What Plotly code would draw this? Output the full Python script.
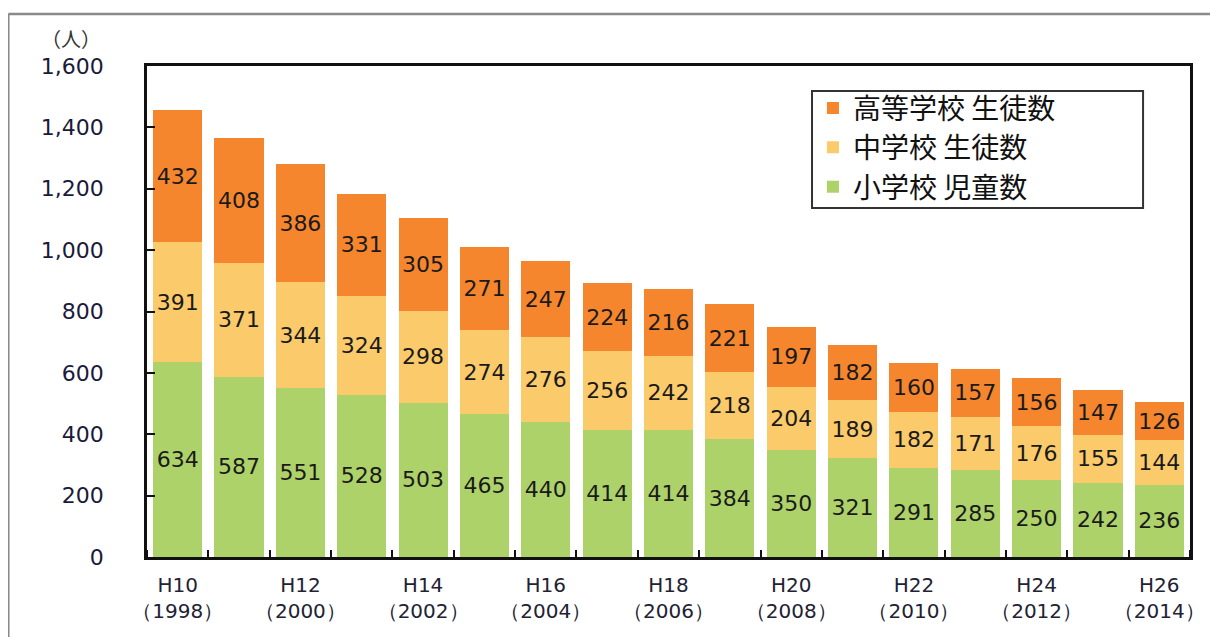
import plotly.graph_objects as go

years = ["H10", "H11", "H12", "H13", "H14", "H15", "H16", "H17", "H18",
         "H19", "H20", "H21", "H22", "H23", "H24", "H25", "H26"]
western = ["1998", "1999", "2000", "2001", "2002", "2003", "2004", "2005", "2006",
           "2007", "2008", "2009", "2010", "2011", "2012", "2013", "2014"]
high_school = [432, 408, 386, 331, 305, 271, 247, 224, 216, 221, 197, 182, 160, 157, 156, 147, 126]
junior_high = [391, 371, 344, 324, 298, 274, 276, 256, 242, 218, 204, 189, 182, 171, 176, 155, 144]
elementary = [634, 587, 551, 528, 503, 465, 440, 414, 414, 384, 350, 321, 291, 285, 250, 242, 236]
y_ticks = [0, 200, 400, 600, 800, 1000, 1200, 1400, 1600]

x = list(range(len(years)))
label_font = dict(family="DejaVu Sans", size=22, color="#1a1a1a")

series = [
    ("小学校 児童数", elementary, "#AED26A"),
    ("中学校 生徒数", junior_high, "#FBCB6B"),
    ("高等学校 生徒数", high_school, "#F5862E"),
]

fig = go.Figure()
for name, vals, col in series:
    fig.add_trace(go.Bar(
        x=x, y=vals, name=name, marker=dict(color=col, line=dict(width=0)),
        text=[str(v) for v in vals], textposition="inside",
        insidetextanchor="middle", textangle=0,
        textfont=label_font, insidetextfont=label_font,
    ))

tickvals = x[::2]
ticktext = [f"{years[i]}<br>（{western[i]}）" for i in tickvals]

# page body adds an 8px offset, so the figure is sized to the visible area
fig.update_layout(
    width=1210, height=629,
    barmode="stack", bargap=0.2,
    plot_bgcolor="white", paper_bgcolor="white",
    margin=dict(l=139, r=28, t=58, b=80, autoexpand=False),
    uniformtext=dict(mode=False),
    legend=dict(
        traceorder="reversed",
        x=0.6385, y=0.965, xanchor="left", yanchor="top",
        borderwidth=0, bgcolor="rgba(0,0,0,0)",
        font=dict(family="Noto Sans CJK JP", size=28, color="#111111"),
        itemwidth=30, tracegroupgap=0,
    ),
    showlegend=True,
)

fig.update_xaxes(
    range=[-0.5, len(years) - 0.5],
    tickmode="array", tickvals=tickvals, ticktext=ticktext,
    ticks="", showgrid=False, zeroline=False,
    showline=True, linecolor="#111111", linewidth=2.5, mirror=True,
    tickfont=dict(family="DejaVu Sans", size=20, color="#222233"),
    ticklabelstandoff=8,
    minor=dict(tickmode="linear", tick0=0.5, dtick=1, ticks="inside",
               ticklen=7, tickwidth=2, tickcolor="#111111", showgrid=False),
)
fig.update_yaxes(
    range=[0, 1600], tickmode="array", tickvals=y_ticks,
    ticktext=[f"{v:,}" for v in y_ticks],
    ticks="inside", ticklen=8, tickwidth=2, tickcolor="#111111",
    showgrid=False, zeroline=False,
    showline=True, linecolor="#111111", linewidth=2.5, mirror=True,
    tickfont=dict(family="DejaVu Sans", size=22, color="#1a1a3a"),
    ticklabelstandoff=36,
)

fig.add_annotation(
    text="（人）", xref="paper", yref="paper", x=-0.104, y=1.056,
    xanchor="left", yanchor="middle",
    showarrow=False, font=dict(family="Noto Sans CJK JP", size=20, color="#333333"),
)

# legend frame box
fig.add_shape(type="rect", xref="paper", yref="paper",
              x0=0.6376, x1=0.955, y0=0.711, y1=0.949, layer="above",
              fillcolor="white", line=dict(color="#333333", width=2))

# outer frame (top and left edges visible in reference)
fig.add_shape(type="line", xref="paper", yref="paper",
              x0=-0.133, x1=1.1, y0=1.106, y1=1.106,
              line=dict(color="#8a8a8a", width=2.5))
fig.add_shape(type="line", xref="paper", yref="paper",
              x0=-0.133, x1=-0.133, y0=1.106, y1=-0.2,
              line=dict(color="#8a8a8a", width=2.5))

fig.write_html("out.html")
